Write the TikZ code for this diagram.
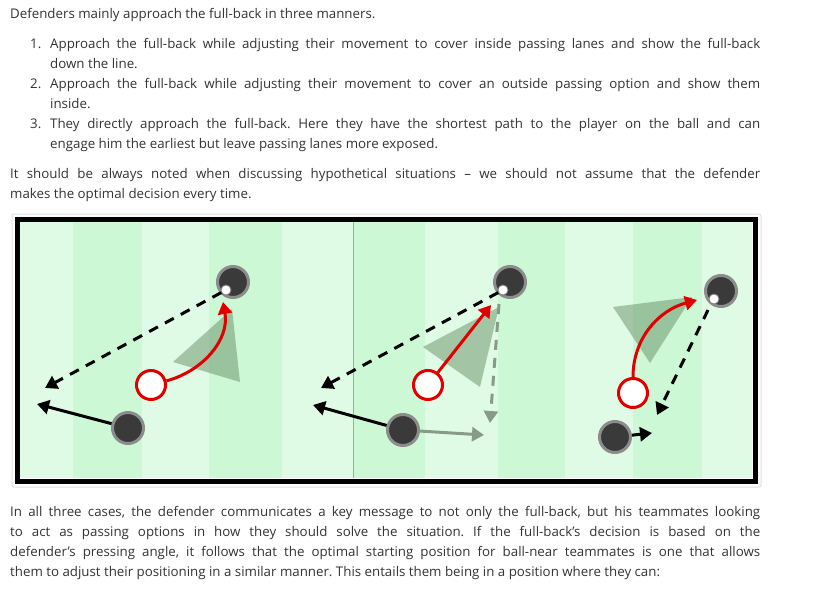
\documentclass[tikz,border=0pt]{standalone}
\usepackage{fontspec}
\setmainfont{Open Sans}
\usetikzlibrary{arrows.meta}
\definecolor{txt}{HTML}{333333}
\definecolor{lightg}{HTML}{E0FBE5}
\definecolor{darkg}{HTML}{CCF8D6}
\definecolor{pl}{HTML}{3A3A3A}
\definecolor{rd}{HTML}{E00000}
\definecolor{gg}{HTML}{889A88}
\tikzset{
 line/.style={anchor=base west,inner sep=0pt,text=txt,font=\fontsize{13.3}{20}\selectfont\frenchspacing},
 jline/.style={line,text width=#1,align=justify},
 player/.style={circle,fill=pl,draw=gray!90,line width=3pt,minimum size=31pt,inner sep=0pt},
 defender/.style={circle,fill=white,draw=rd,line width=3pt,minimum size=29pt,inner sep=0pt},
 ball/.style={circle,fill=white,draw=gray,line width=0.8pt,minimum size=10pt,inner sep=0pt},
 run/.style={line width=3pt,-{Triangle[length=12pt,width=14pt]}},
 pass/.style={run,dash pattern=on 10pt off 8pt},
 shadow/.style={fill=black!45!green!30!gray,opacity=0.45},
}
\newcommand{\jj}[1]{{\parfillskip=0pt\relax #1\par}}
\begin{document}
\begin{tikzpicture}[x=1pt,y=-1pt]
\useasboundingbox (0,0) rectangle (823,589);
\fill[white] (0,0) rectangle (823,589);
% text
\node[line] (t1) at (10,18) {Defenders mainly approach the full-back in three manners.};
\node[line] (n1) at (30,48) {1.};
\node[jline=710pt] (l1a) at (50,48) {\jj{Approach the full-back while adjusting their movement to cover inside passing lanes and show the full-back}};
\node[line] (l1b) at (50,68) {down the line.};
\node[line] (n2) at (30,88) {2.};
\node[jline=710pt] (l2a) at (50,88) {\jj{Approach the full-back while adjusting their movement to cover an outside passing option and show them}};
\node[line] (l2b) at (50,108) {inside.};
\node[line] (n3) at (30,128) {3.};
\node[jline=710pt] (l3a) at (50,128) {\jj{They directly approach the full-back. Here they have the shortest path to the player on the ball and can}};
\node[line] (l3b) at (50,148) {engage him the earliest but leave passing lanes more exposed.};
\node[jline=750pt] (p1a) at (10,178) {\jj{It should be always noted when discussing hypothetical situations -- we should not assume that the defender}};
\node[line] (p1b) at (10,198) {makes the optimal decision every time.};
\node[jline=750pt] (p2a) at (10,516) {\jj{In all three cases, the defender communicates a key message to not only the full-back, but his teammates looking}};
\node[jline=750pt] (p2b) at (10,536) {\jj{to act as passing options in how they should solve the situation. If the full-back's decision is based on the}};
\node[jline=750pt] (p2c) at (10,556) {\jj{defender's pressing angle, it follows that the optimal starting position for ball-near teammates is one that allows}};
\node[line] (p2d) at (10,576) {them to adjust their positioning in a similar manner. This entails them being in a position where they can:};
% pitch
\draw[gray!25,line width=1pt,rounded corners=2pt] (12,214) rectangle (761,487);
\fill[lightg] (20,222) rectangle (752,478);
\foreach \a/\b in {73/142,209/282,353/425,498/565,633/702}{\fill[darkg] (\a,222) rectangle (\b,478);}
\draw[gray!70,line width=0.8pt] (353,222) -- (353,478);
\draw[line width=5pt] (17.5,219.5) rectangle (755,481);
% shadows
\fill[shadow] (173,362) -- (232,309) -- (240,382) -- cycle;
\fill[shadow] (423,347) -- (499,307) -- (480,387) -- cycle;
\fill[shadow] (613,307) -- (692,297) -- (650,363) -- cycle;
% panel 1
\node[player] (c1) at (233,282) {};
\node[ball] (b1) at (226,290) {};
\node[defender] (d1) at (151,385) {};
\node[player] (m1) at (128,428) {};
\coordinate (e1) at (45,388);
\coordinate (f1) at (37,404);
\draw[pass] (b1) -- (e1);
\draw[run] (m1) -- (f1);
\draw[run,rd] (d1) to[out=15,in=-80] (223,302);
% panel 2
\node[player] (c2) at (510,282) {};
\node[ball] (b2) at (503,290) {};
\node[defender] (d2) at (428,385) {};
\node[player] (m2) at (403,430) {};
\coordinate (e2) at (321,388);
\coordinate (f2) at (313,405);
\coordinate (g2) at (490,423);
\coordinate (h2) at (484,435);
\coordinate (k2) at (491,305);
\draw[pass] (b2) -- (e2);
\draw[run] (m2) -- (f2);
\draw[run,rd] (d2) -- (k2);
\draw[pass,gg] (499,304) -- (g2);
\draw[run,gg] (m2) -- (h2);
% panel 3
\node[player] (c3) at (721,291) {};
\node[ball] (b3) at (714,299) {};
\node[defender] (d3) at (633,393) {};
\node[player] (m3) at (615,437) {};
\coordinate (e3) at (657,415);
\coordinate (f3) at (652,433);
\coordinate (k3) at (697,300);
\draw[pass] (708,310) -- (e3);
\draw[run] (m3) -- (f3);
\draw[run,rd] (d3) to[out=90,in=195] (k3);
\end{tikzpicture}
\end{document}
